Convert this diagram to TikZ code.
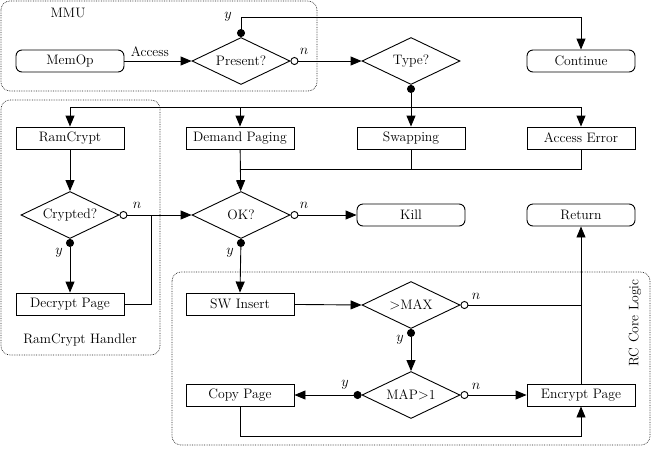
\documentclass[tikz,border=0pt]{standalone}
\usepackage{fontspec}
\usetikzlibrary{arrows.meta,shapes.geometric,calc}
\begin{document}
\begin{tikzpicture}[x=1pt,y=-1pt,
  every node/.style={font=\fontsize{13.7}{16}\selectfont},
  base/.style={draw, line width=0.9pt, minimum width=108pt, minimum height=22pt, inner sep=2pt},
  proc/.style={base},
  term/.style={base, rounded corners=6pt},
  dec/.style={draw, line width=0.9pt, diamond, aspect=2, inner sep=0pt, minimum width=98pt, minimum height=47pt},
  conn/.style={line width=0.9pt},
  arr/.style={conn, -{Triangle[length=11pt,width=9pt]}},
  ydot/.style={{Circle[length=8pt]}-},
  ndot/.style={{Circle[open,length=8pt]}-},
  yarr/.style={conn, {Circle[length=8pt]}-{Triangle[length=11pt,width=9pt]}},
  narr/.style={conn, {Circle[open,length=8pt]}-{Triangle[length=11pt,width=9pt]}},
  group/.style={draw=black!85, densely dotted, line width=0.7pt, rounded corners=9pt},
  lbl/.style={inner sep=0pt}
]
\useasboundingbox (0,0) rectangle (652,448);
% groups
\draw[group] (1,1) rectangle (317,91);
\node[lbl] (mmulbl) at (68,13) {MMU};
\draw[group] (1,100) rectangle (160,355);
\node[lbl] (rchlbl) at (80,340) {RamCrypt Handler};
\draw[group] (172,272) rectangle (650,445);
\node[lbl, rotate=90] (corelbl) at (635,323) {RC Core Logic};
% nodes
\node[term] (memop) at (70,61) {MemOp};
\node[dec] (present) at (241,61) {Present?};
\node[dec] (type) at (411,61) {Type?};
\node[term] (continue) at (581,61) {Continue};
\node[proc] (ramcrypt) at (70,138) {RamCrypt};
\node[proc] (demand) at (240,138) {Demand Paging};
\node[proc] (swapping) at (411,138) {Swapping};
\node[proc] (accerr) at (581,138) {Access Error};
\node[dec] (crypted) at (70,215) {Crypted?};
\node[dec] (ok) at (241,215) {OK?};
\node[term] (kill) at (411,215) {Kill};
\node[term] (return) at (581,215) {Return};
\node[proc] (decrypt) at (70,304) {Decrypt Page};
\node[proc] (swins) at (240,304) {SW Insert};
\node[dec] (max) at (411,305) {$>$MAX};
\node[dec] (map) at (411,395) {MAP$>$1};
\node[proc] (copy) at (240,395) {Copy Page};
\node[proc] (encrypt) at (581,395) {Encrypt Page};
% junction coordinates
\coordinate (topj) at (241,17);
\coordinate (typej) at (411,107);
\coordinate (mergej) at (240,169);
\coordinate (cj) at (151,215);
\coordinate (maxj) at (581,305);
\coordinate (botj) at (240,436);
% connectors
\draw[arr] (memop) -- node[lbl, above=4pt, pos=0.38] {Access} (present);
\draw[narr] (present.east) -- (type.west);
\node[lbl] (n1) at (304,51) {$n$};
\draw[conn, ydot] (present.north) -- (topj);
\draw[arr] (topj) -| (continue.north);
\node[lbl] (y1) at (228,17) {$y$};
\draw[conn, ydot] (type.south) -- (typej);
\draw[arr] (typej) -| (ramcrypt.north);
\draw[arr] (typej) -| (demand.north);
\draw[arr] (typej) -- (swapping.north);
\draw[arr] (typej) -| (accerr.north);
\draw[arr] (ramcrypt) -- (crypted);
\draw[narr] (crypted.east) -- (ok.west);
\node[lbl] (n2) at (137,205) {$n$};
\draw[yarr] (crypted.south) -- (decrypt.north);
\node[lbl] (y2) at (59,253) {$y$};
\draw[conn] (decrypt.east) -| (cj);
\draw[arr] (demand) -- (ok);
\draw[conn] (swapping.south) |- (mergej);
\draw[conn] (accerr.south) |- (swapping.south |- mergej);
\draw[narr] (ok.east) -- (kill.west);
\node[lbl] (n3) at (304,205) {$n$};
\draw[yarr] (ok.south) -- (swins.north);
\node[lbl] (y3) at (230,253) {$y$};
\draw[arr] (swins) -- (max.west);
\draw[conn, ndot] (max.east) -- (maxj);
\node[lbl] (n4) at (476,296) {$n$};
\draw[yarr] (max.south) -- (map.north);
\node[lbl] (y4) at (400,340) {$y$};
\draw[narr] (map.east) -- (encrypt.west);
\node[lbl] (n5) at (476,386) {$n$};
\draw[yarr] (map.west) -- (copy.east);
\node[lbl] (y5) at (345,385) {$y$};
\draw[arr] (copy.south) |- (botj -| encrypt) -- (encrypt.south);
\draw[arr] (encrypt) -- (return);
\end{tikzpicture}
\end{document}
